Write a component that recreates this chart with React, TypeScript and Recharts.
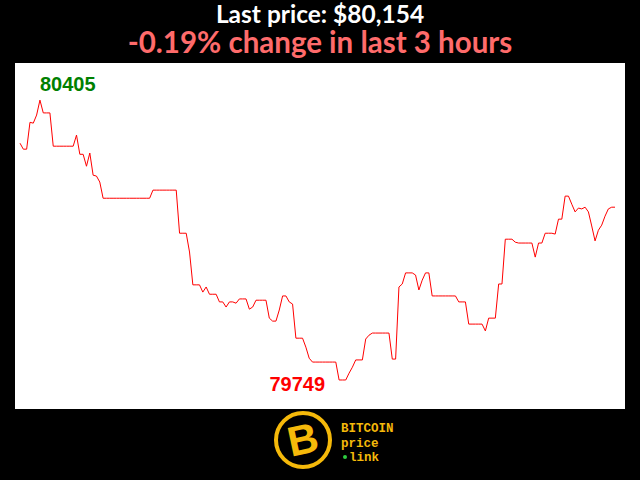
import { LineChart, Line, XAxis, YAxis, CartesianGrid, ReferenceDot } from 'recharts';

// BTC price, one reading per minute over the last 3 hours
const prices: number[] = [
  80304, 80290, 80290, 80353, 80351, 80370, 80405, 80375, 80375, 80375,
  80297, 80297, 80297, 80297, 80297, 80297, 80297, 80323, 80278, 80278,
  80250, 80281, 80229, 80227, 80213, 80175, 80175, 80175, 80175, 80175,
  80175, 80175, 80175, 80175, 80175, 80175, 80175, 80175, 80175, 80175,
  80194, 80194, 80194, 80194, 80194, 80194, 80194, 80194, 80093, 80093,
  80093, 80049, 79972, 79972, 79972, 79955, 79967, 79950, 79950, 79950,
  79932, 79932, 79920, 79932, 79932, 79929, 79939, 79939, 79939, 79915,
  79920, 79936, 79936, 79936, 79936, 79894, 79887, 79887, 79913, 79946,
  79946, 79932, 79927, 79847, 79847, 79847, 79826, 79800, 79791, 79791,
  79791, 79791, 79791, 79791, 79791, 79791, 79749, 79749, 79749, 79765,
  79779, 79796, 79796, 79796, 79845, 79854, 79859, 79859, 79859, 79859,
  79859, 79859, 79798, 79798, 79967, 79974, 80000, 80000, 80000, 79995,
  79960, 79983, 80000, 80000, 79946, 79946, 79946, 79946, 79946, 79946,
  79946, 79946, 79932, 79932, 79932, 79880, 79880, 79880, 79880, 79880,
  79864, 79894, 79894, 79894, 79974, 79974, 80079, 80079, 80079, 80072,
  80070, 80070, 80070, 80070, 80070, 80037, 80070, 80070, 80093, 80093,
  80093, 80091, 80126, 80126, 80180, 80180, 80161, 80143, 80152, 80150,
  80154, 80143, 80110, 80075, 80100, 80112, 80133, 80150, 80154, 80154,
];

const lastPrice = '$80,154';
const changeText = '-0.19% change in last 3 hours';

const data = prices.map((price, i) => ({ i, price }));

const maxVal = Math.max(...prices);
const minVal = Math.min(...prices);
const maxIdx = prices.indexOf(maxVal);
const minIdx = prices.indexOf(minVal);

const labelFont = '"Liberation Sans", Arial, sans-serif';
const monoFont = '"Liberation Mono", monospace';
const gold = '#f5b90a';

const App = () => {
  return (
    <div style={{ position: 'fixed', left: 0, top: 0, width: 640, height: 480, background: '#000', overflow: 'hidden' }}>
      <svg width={640} height={62} style={{ position: 'absolute', left: 0, top: 0 }}>
        <text x={320} y={23} textAnchor="middle" fill="#fff" fontFamily="Lato, sans-serif" fontWeight={700} fontSize={24.5}>
          Last price: {lastPrice}
        </text>
        <text x={320} y={53} textAnchor="middle" fill="#ff6b6b" fontFamily="Lato, sans-serif" fontWeight={700} fontSize={29.5}>
          {changeText}
        </text>
      </svg>

      <div style={{ position: 'absolute', left: 0, top: 0 }}>
        <LineChart width={640} height={480} data={data} margin={{ top: 63, right: 15, bottom: 71, left: 15 }}>
          <CartesianGrid fill="#fff" horizontal={false} vertical={false} />
          <XAxis dataKey="i" hide padding={{ left: 5, right: 10 }} />
          <YAxis hide domain={[79681, 80492]} />
          <Line
            type="linear"
            dataKey="price"
            stroke="#ff0000"
            strokeWidth={1}
            dot={false}
            isAnimationActive={false}
          />
          <ReferenceDot
            x={maxIdx}
            y={maxVal}
            r={0}
            shape={(p: any) => (
              <text x={p.cx} y={p.cy - 9} fill="#008000" fontFamily={labelFont} fontWeight={700} fontSize={20}>
                {maxVal}
              </text>
            )}
          />
          <ReferenceDot
            x={minIdx}
            y={minVal}
            r={0}
            shape={(p: any) => (
              <text x={p.cx - 14} y={p.cy + 11} textAnchor="end" fill="#ff0000" fontFamily={labelFont} fontWeight={700} fontSize={20}>
                {minVal}
              </text>
            )}
          />
        </LineChart>
      </div>

      {/* logo */}
      <svg width={640} height={70} style={{ position: 'absolute', left: 0, top: 410 }}>
        <circle cx={303} cy={30} r={27} fill="#000" stroke={gold} strokeWidth={4} />
        <text x={303} y={44} textAnchor="middle" fill={gold} fontFamily={labelFont} fontWeight={900} fontSize={42} transform="rotate(-12 303 30)">
          B
        </text>
        <text x={341} y={22} fill={gold} fontFamily={monoFont} fontWeight={700} fontSize={12.5}>BITCOIN</text>
        <text x={341} y={37} fill={gold} fontFamily={monoFont} fontWeight={700} fontSize={12.5}>price</text>
        <circle cx={345} cy={47} r={2} fill="#2ecc40" />
        <text x={349} y={51} fill={gold} fontFamily={monoFont} fontWeight={700} fontSize={12.5}>link</text>
      </svg>
    </div>
  );
};

export default App;
